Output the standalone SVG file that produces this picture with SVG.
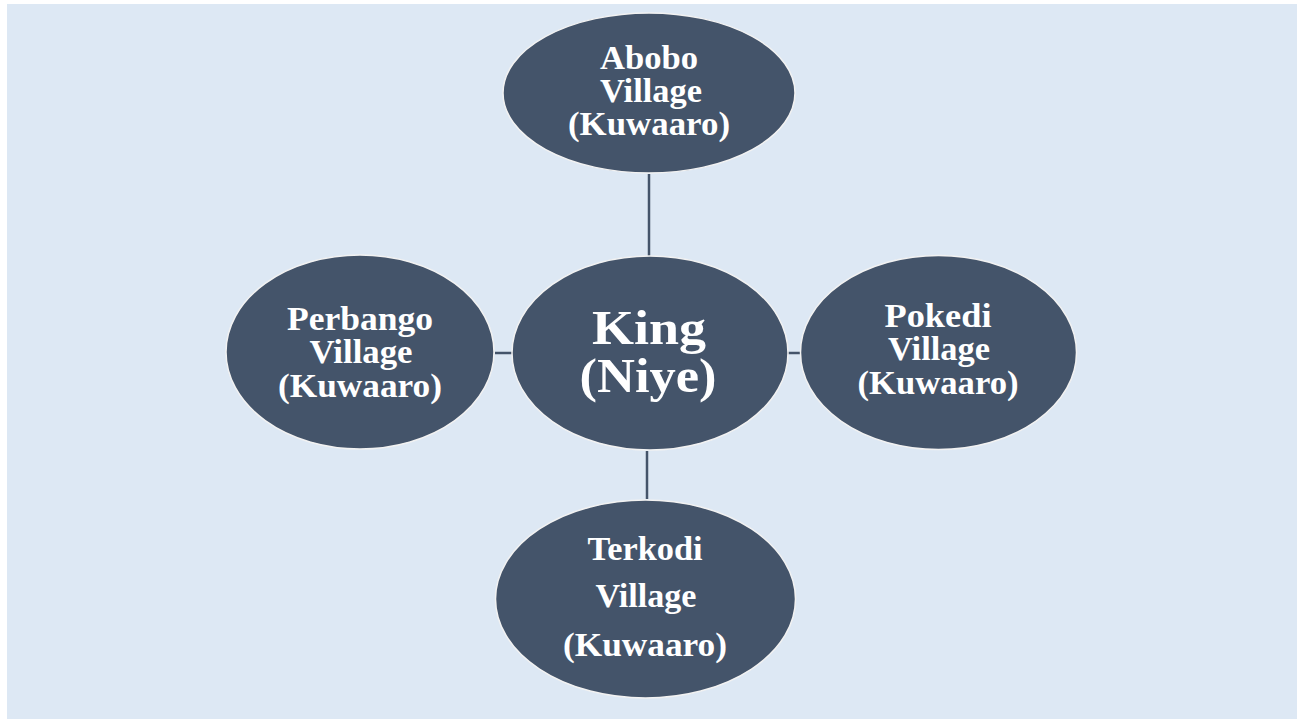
<svg xmlns="http://www.w3.org/2000/svg" width="1297" height="719" viewBox="0 0 1297 719">
<style>
.node{fill:#44546a;stroke:#f2f2f2;stroke-width:1.5}
.lbl{font-family:"Liberation Serif","Times New Roman",serif;font-weight:bold;fill:#ffffff;text-anchor:middle;font-size:33px}
.big{font-size:48px}
.conn{stroke:#44546a;stroke-width:2.5;fill:none}
</style>
<rect x="0" y="0" width="1297" height="719" fill="#ffffff"/>
<rect x="7" y="4" width="1290" height="715" fill="#dde8f4"/>
<g id="connectors">
<line class="conn" x1="649" y1="174" x2="649" y2="256"/>
<line class="conn" x1="647" y1="451" x2="647" y2="499"/>
<line class="conn" x1="495" y1="353" x2="512" y2="353"/>
<line class="conn" x1="788" y1="353" x2="800" y2="353"/>
</g>
<g id="abobo">
<ellipse class="node" cx="649" cy="93" rx="146" ry="80"/>
<text class="lbl" x="649" y="69" textLength="98" lengthAdjust="spacingAndGlyphs">Abobo</text>
<text class="lbl" x="651" y="102" textLength="102" lengthAdjust="spacingAndGlyphs">Village</text>
<text class="lbl" x="649" y="135" textLength="162" lengthAdjust="spacingAndGlyphs">(Kuwaaro)</text>
</g>
<g id="king">
<ellipse class="node" cx="650" cy="353" rx="138" ry="97"/>
<text class="lbl big" x="649" y="344" textLength="114" lengthAdjust="spacingAndGlyphs">King</text>
<text class="lbl big" x="648" y="392" textLength="137" lengthAdjust="spacingAndGlyphs">(Niye)</text>
</g>
<g id="perbango">
<ellipse class="node" cx="360" cy="352" rx="134" ry="97"/>
<text class="lbl" x="360" y="330" textLength="146" lengthAdjust="spacingAndGlyphs">Perbango</text>
<text class="lbl" x="361" y="363" textLength="103" lengthAdjust="spacingAndGlyphs">Village</text>
<text class="lbl" x="360" y="397" textLength="164" lengthAdjust="spacingAndGlyphs">(Kuwaaro)</text>
</g>
<g id="pokedi">
<ellipse class="node" cx="938.5" cy="352.5" rx="138" ry="97"/>
<text class="lbl" x="938" y="327" textLength="107" lengthAdjust="spacingAndGlyphs">Pokedi</text>
<text class="lbl" x="939" y="360" textLength="102" lengthAdjust="spacingAndGlyphs">Village</text>
<text class="lbl" x="938" y="394" textLength="161" lengthAdjust="spacingAndGlyphs">(Kuwaaro)</text>
</g>
<g id="terkodi">
<ellipse class="node" cx="645.5" cy="599" rx="150" ry="99"/>
<text class="lbl" x="645" y="560" textLength="115" lengthAdjust="spacingAndGlyphs">Terkodi</text>
<text class="lbl" x="646" y="607" textLength="101" lengthAdjust="spacingAndGlyphs">Village</text>
<text class="lbl" x="645" y="656" textLength="164" lengthAdjust="spacingAndGlyphs">(Kuwaaro)</text>
</g>
</svg>
